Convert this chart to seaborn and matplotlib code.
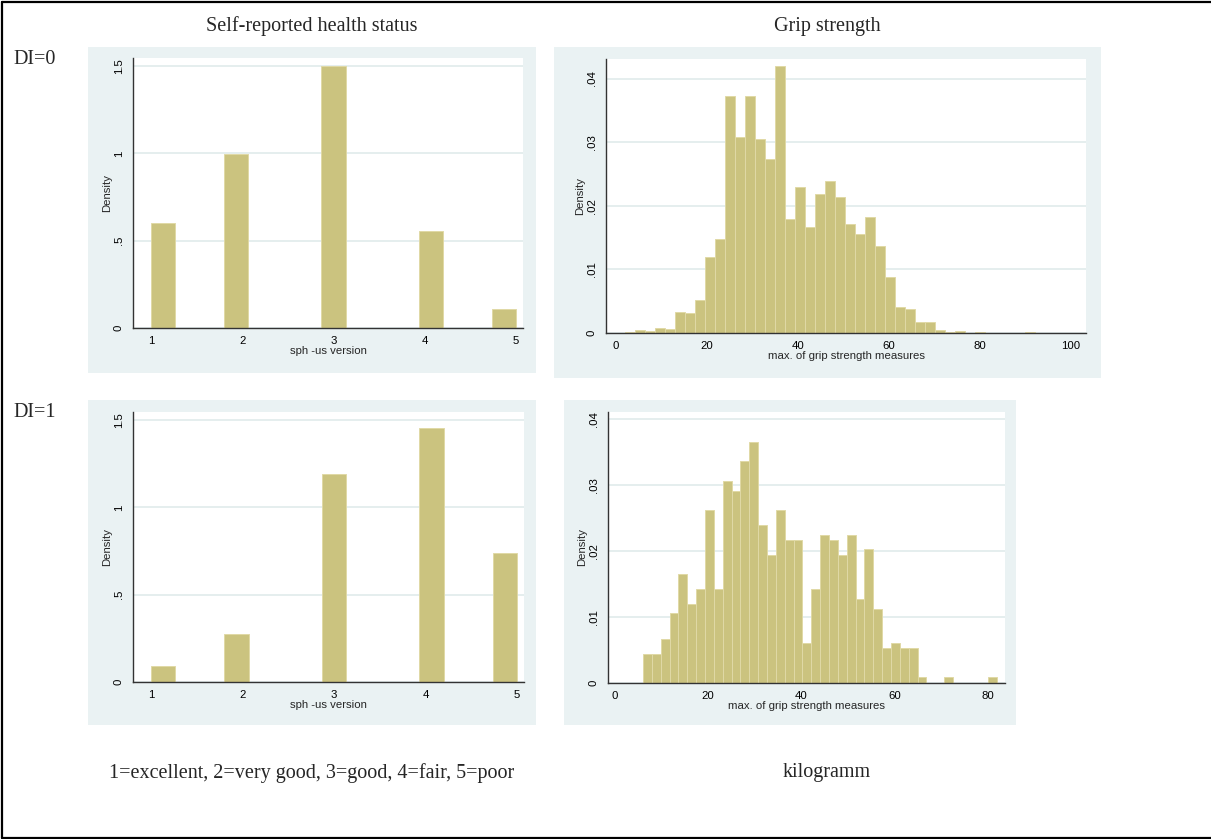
import numpy as np
import matplotlib
matplotlib.use("Agg")
import matplotlib.pyplot as plt
from matplotlib.patches import Rectangle
from matplotlib.lines import Line2D
import seaborn as sns

# self-reported health status (Stata default: 15 bins over 1..5)
sph_values = [1, 2, 3, 4, 5]
sph_density_di0 = [0.600, 0.997, 1.500, 0.556, 0.110]
sph_density_di1 = [0.093, 0.276, 1.192, 1.456, 0.738]
sph_bins = 15
sph_range = (1, 5)
sph_xticks = [1, 2, 3, 4, 5]
sph_yticks = [0, 0.5, 1, 1.5]
sph_yticklabels = ["0", ".5", "1", "1.5"]

# grip strength, density per bin
grip_range_di0 = (2, 92)
grip_density_di0 = [
    0.0002, 0.00047, 0.0003, 0.00085, 0.0006, 0.0033, 0.0032, 0.0052, 0.0119, 0.0147,
    0.0373, 0.0308, 0.0373, 0.0305, 0.0273, 0.0420, 0.0179, 0.0229, 0.0166, 0.0218,
    0.0239, 0.0213, 0.0171, 0.0156, 0.0183, 0.0137, 0.0088, 0.0041, 0.0037, 0.0018,
    0.0018, 0.0005, 0.0002, 0.0003, 0.0, 0.0001, 0.0, 0.0, 0.0, 0.0,
    0.0001,
]
grip_range_di1 = (6, 82)
grip_density_di1 = [
    0.00446, 0.00446, 0.0067, 0.0106, 0.0165, 0.0120, 0.0142, 0.0262, 0.0142, 0.0306,
    0.0291, 0.0337, 0.0366, 0.0239, 0.0194, 0.0262, 0.0217, 0.0217, 0.0060, 0.0142,
    0.0224, 0.0217, 0.0194, 0.0224, 0.0127, 0.0203, 0.0112, 0.0053, 0.0060, 0.0053,
    0.0053, 0.00086, 0.0, 0.0, 0.00086, 0.0, 0.0, 0.0, 0.0, 0.00086,
]
grip_xticks_di0 = [0, 20, 40, 60, 80, 100]
grip_xticks_di1 = [0, 20, 40, 60, 80]
grip_yticks = [0, 0.01, 0.02, 0.03, 0.04]
grip_yticklabels = ["0", ".01", ".02", ".03", ".04"]

col_titles = ["Self-reported health status", "Grip strength"]
row_titles = ["DI=0", "DI=1"]
notes = ["1=excellent, 2=very good, 3=good, 4=fair, 5=poor", "kilogramm"]

W, H = 1211, 839
BG = "#eaf2f3"
BAR = "#cbc37f"
BAR_EDGE = "#e0d9a6"
GRID = "#e3eded"
AXC = "#333333"

sns.set_style("white")
plt.rcParams["font.family"] = ["Liberation Sans", "DejaVu Sans"]

fig = plt.figure(figsize=(W / 100, H / 100), dpi=100)
fig.patch.set_facecolor("white")


def fig_box(x0, y0, x1, y1):
    return [x0 / W, 1 - y1 / H, (x1 - x0) / W, (y1 - y0) / H]


def draw_panel(bg, box, x, weights, bins, binrange, xlim, ylim,
               xticks, yticks, yticklabels, xlabel):
    l, b, w, h = fig_box(*bg)
    fig.add_artist(Rectangle((l, b), w, h, transform=fig.transFigure,
                             facecolor=BG, edgecolor="none", zorder=-1))
    ax = fig.add_axes(fig_box(*box))
    ax.set_facecolor("white")
    sns.histplot(x=x, weights=weights, bins=bins, binrange=binrange,
                 stat="count", color=BAR, edgecolor=BAR_EDGE, linewidth=0.7,
                 alpha=1, ax=ax)
    ax.set_xlim(*xlim)
    ax.set_ylim(*ylim)
    ax.set_xticks(xticks)
    ax.set_xticklabels([str(t) for t in xticks])
    ax.set_yticks(yticks)
    ax.set_yticklabels(yticklabels, rotation=90, va="center")
    ax.set_axisbelow(True)
    ax.yaxis.grid(True, color=GRID, linewidth=1.3)
    ax.xaxis.grid(False)
    for s in ["top", "right"]:
        ax.spines[s].set_visible(False)
    for s in ["left", "bottom"]:
        ax.spines[s].set_color(AXC)
        ax.spines[s].set_linewidth(1.0)
    ax.tick_params(axis="both", direction="out", length=3.5, width=0.8,
                   color=AXC, labelsize=8.2, labelcolor="black")
    ax.tick_params(axis="x", pad=2)
    ax.tick_params(axis="y", pad=3)
    ax.set_xlabel(xlabel, fontsize=8.2, labelpad=0)
    ax.set_ylabel("Density", fontsize=8.2, labelpad=1)
    return ax


# health status panels
draw_panel((88, 47, 536, 373), (133, 58, 523, 328), sph_values, sph_density_di0,
           sph_bins, sph_range, (0.803, 5.077), (0, 1.546),
           sph_xticks, sph_yticks, sph_yticklabels, "sph -us version")
draw_panel((88, 400, 536, 725), (133, 412, 524, 682), sph_values, sph_density_di1,
           sph_bins, sph_range, (0.803, 5.077), (0, 1.546),
           sph_xticks, sph_yticks, sph_yticklabels, "sph -us version")

# grip strength panels
edges0 = np.linspace(*grip_range_di0, len(grip_density_di0) + 1)
mids0 = (edges0[:-1] + edges0[1:]) / 2
draw_panel((554, 47, 1101, 378), (606, 59, 1086, 333), mids0, grip_density_di0,
           len(grip_density_di0), grip_range_di0, (-2.2, 103.3), (0, 0.04307),
           grip_xticks_di0, grip_yticks, grip_yticklabels,
           "max. of grip strength measures")

edges1 = np.linspace(*grip_range_di1, len(grip_density_di1) + 1)
mids1 = (edges1[:-1] + edges1[1:]) / 2
draw_panel((564, 400, 1016, 725), (608, 412, 1005, 683), mids1, grip_density_di1,
           len(grip_density_di1), grip_range_di1, (-1.5, 83.66), (0, 0.0411),
           grip_xticks_di1, grip_yticks, grip_yticklabels,
           "max. of grip strength measures")

serif = ["Liberation Serif", "DejaVu Serif"]
for t, xc in zip(col_titles, [312, 827]):
    fig.text(xc / W, 1 - 26 / H, t, ha="center", va="center",
             fontsize=14.5, family=serif)
for t, yc in zip(row_titles, [60, 413]):
    fig.text(13 / W, 1 - yc / H, t, ha="left", va="center",
             fontsize=14.5, family=serif)
for t, xc in zip(notes, [312, 827]):
    fig.text(xc / W, 1 - 773 / H, t, ha="center", va="center",
             fontsize=14.5, family=serif)

# outer frame (right edge is cut off in the original)
lx, ty, by = 2 / W, 1 - 1.5 / H, 1 - 837.5 / H
for xs, ys in [([lx, 1.01], [ty, ty]), ([lx, 1.01], [by, by]), ([lx, lx], [by, ty])]:
    fig.add_artist(Line2D(xs, ys, transform=fig.transFigure, color="black",
                          linewidth=1.6))

fig.savefig("out.png", dpi=100)
